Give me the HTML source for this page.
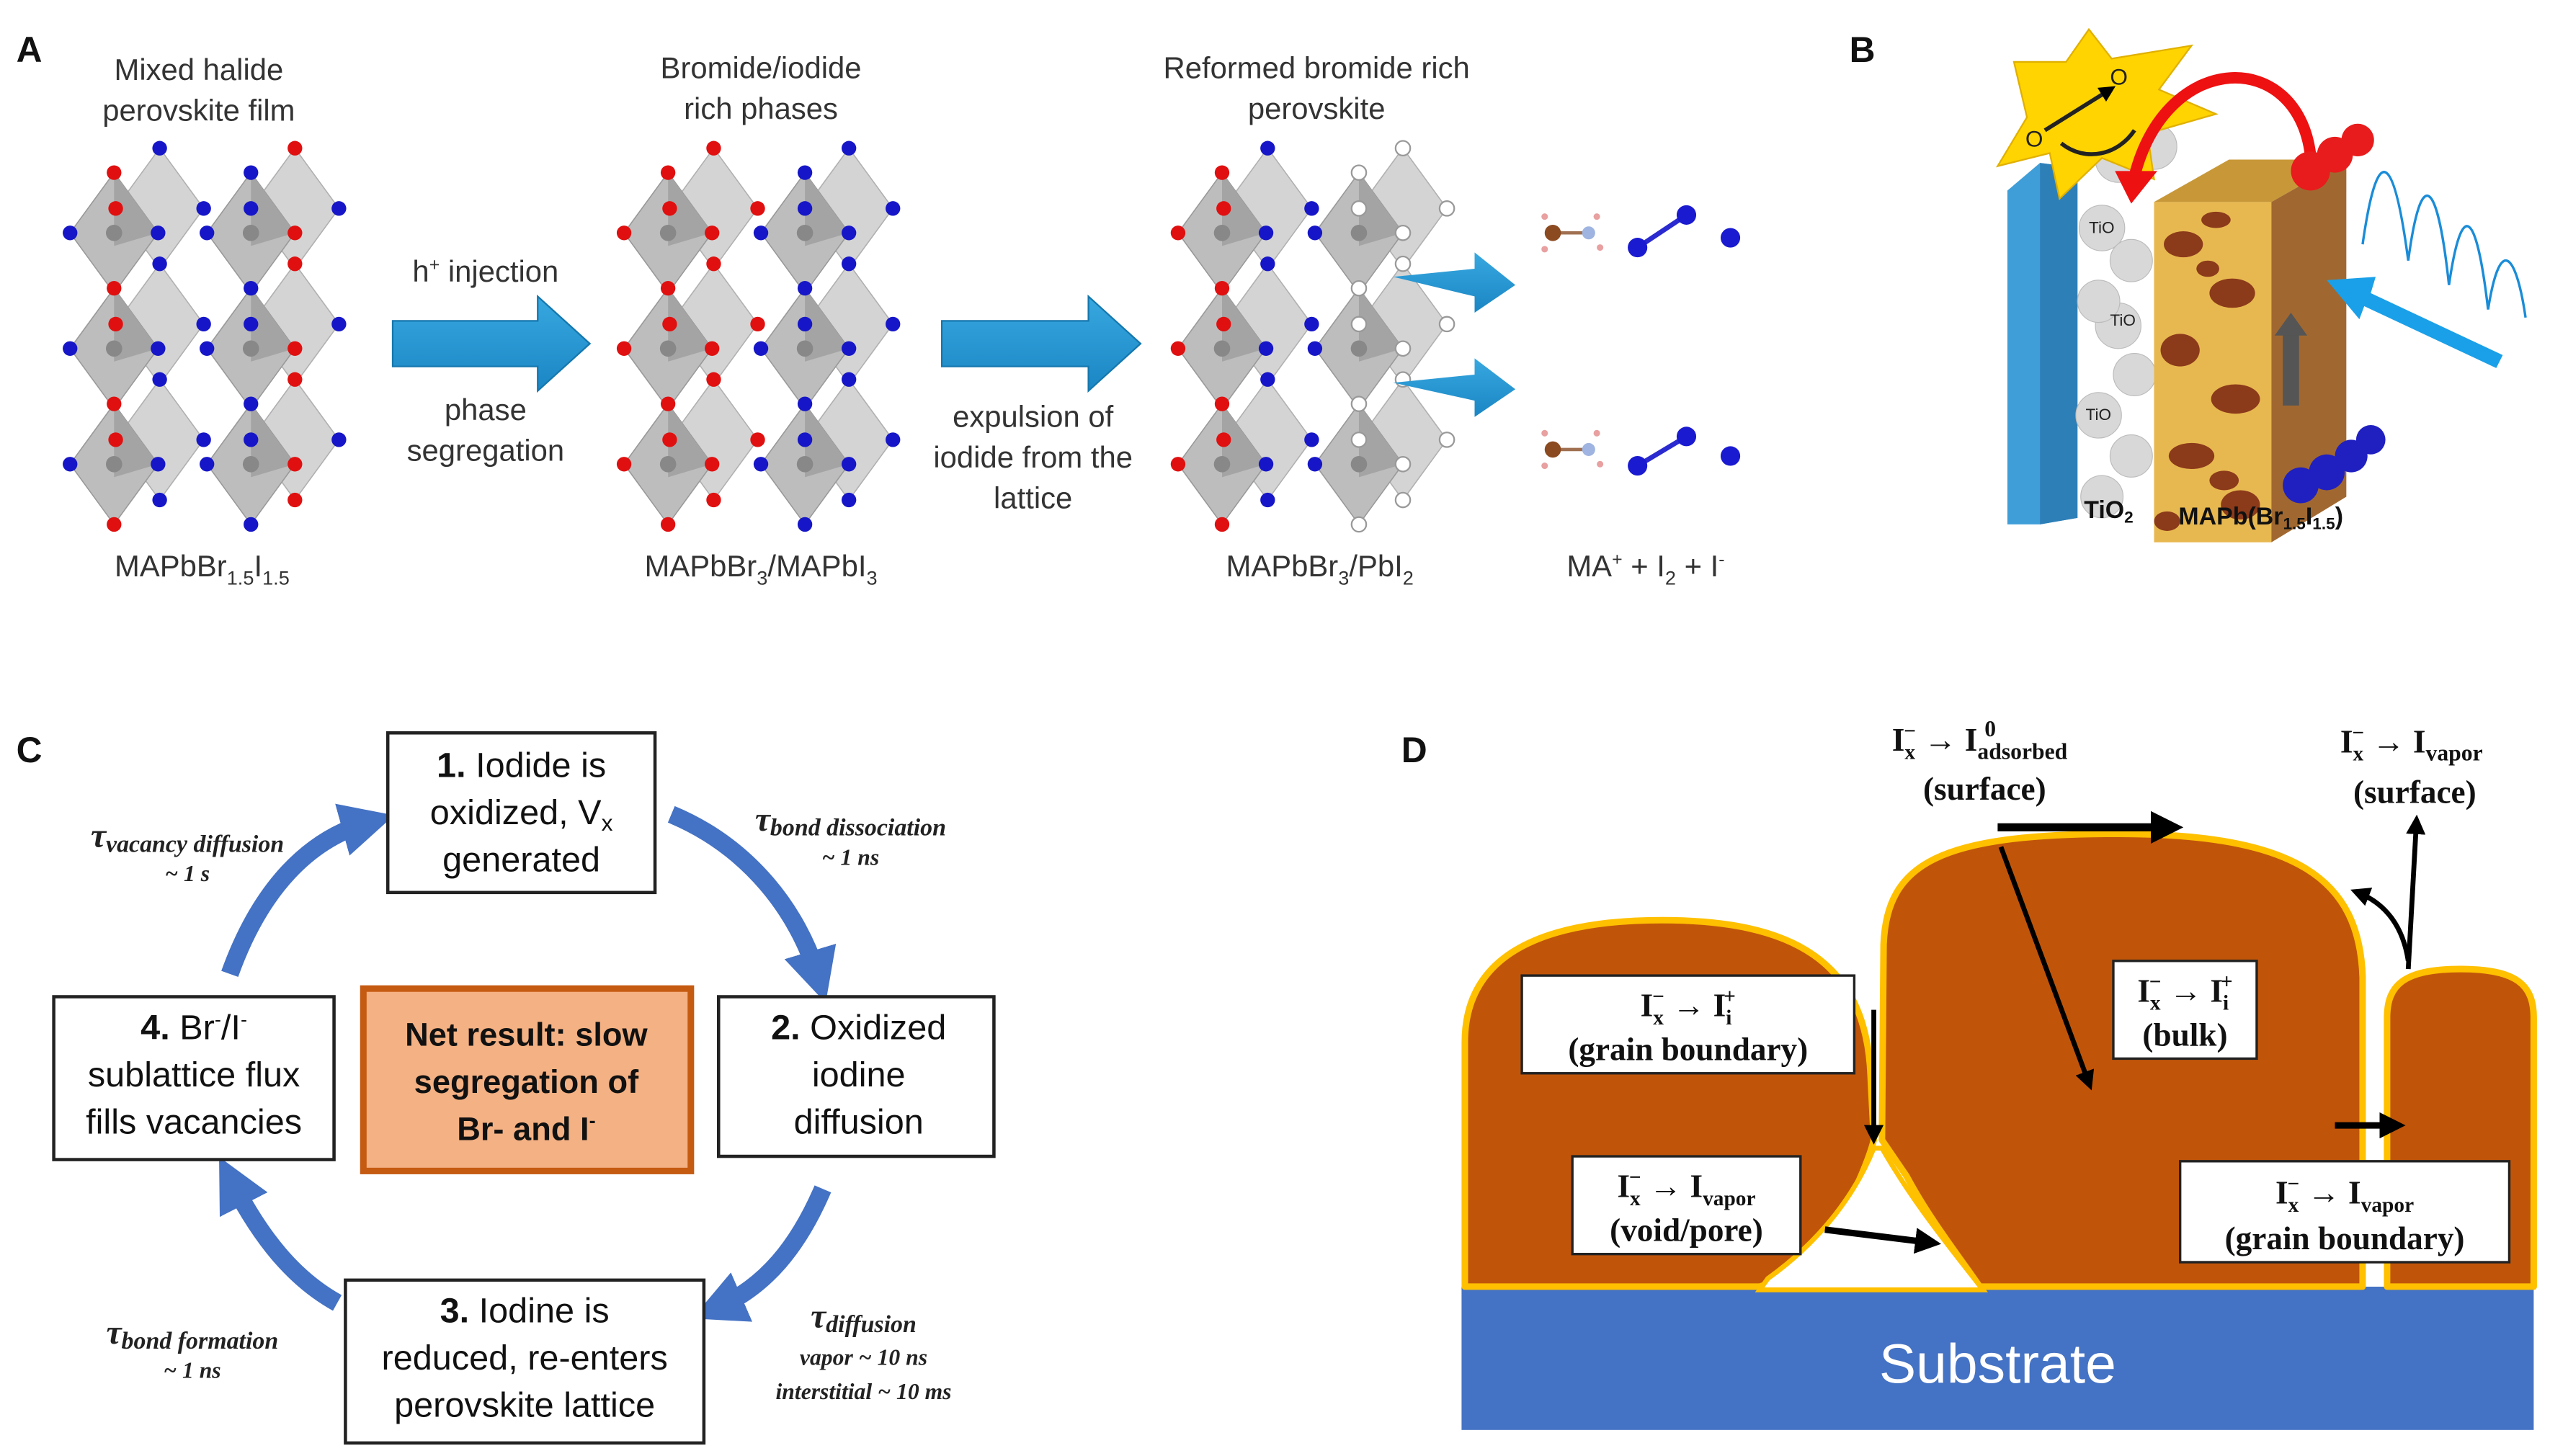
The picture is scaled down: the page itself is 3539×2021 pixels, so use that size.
<!DOCTYPE html>
<html><head><meta charset="utf-8"><style>
html,body{margin:0;padding:0;background:#fff}
svg{display:block}
.s{font-family:"Liberation Sans",sans-serif}
.r{font-family:"Liberation Serif",serif;font-weight:bold}
</style></head><body>
<svg id="sv" width="3539" height="2021" viewBox="0 0 1565 894" preserveAspectRatio="none" xmlns="http://www.w3.org/2000/svg">
<defs>
<marker id="bh" viewBox="0 0 10 10" refX="5" refY="5" markerWidth="3" markerHeight="3" orient="auto"><path d="M0,0 L10,5 L0,10 z" fill="#4472c4"/></marker>
<marker id="kh" viewBox="0 0 10 10" refX="6" refY="5" markerWidth="4" markerHeight="4" orient="auto"><path d="M0,0 L10,5 L0,10 z" fill="#000"/></marker>
<linearGradient id="ag" x1="0" y1="0" x2="0" y2="1"><stop offset="0" stop-color="#38a8e0"/><stop offset="1" stop-color="#1a86c4"/></linearGradient>
</defs>

<g class="s" font-weight="bold" font-size="22" fill="#111">
<text x="10" y="38">A</text><text x="1135" y="38">B</text><text x="10" y="468">C</text><text x="860" y="468">D</text>
</g>

<g id="lat"></g>
<g class="s" font-size="18.5" fill="#333" text-anchor="middle">
<text x="122" y="49">Mixed halide</text><text x="122" y="74">perovskite film</text>
<text x="467" y="48">Bromide/iodide</text><text x="467" y="73">rich phases</text>
<text x="808" y="48">Reformed bromide rich</text><text x="808" y="73">perovskite</text>
<text x="298" y="173">h<tspan font-size="11" dy="-7">+</tspan><tspan dy="7"> injection</tspan></text>
<text x="298" y="258">phase</text><text x="298" y="283">segregation</text>
<text x="634" y="262">expulsion of</text><text x="634" y="287">iodide from the</text><text x="634" y="312">lattice</text>
<text x="124" y="354">MAPbBr<tspan font-size="12" dy="5">1.5</tspan><tspan dy="-5">I</tspan><tspan font-size="12" dy="5">1.5</tspan></text>
<text x="467" y="354">MAPbBr<tspan font-size="12" dy="5">3</tspan><tspan dy="-5">/MAPbI</tspan><tspan font-size="12" dy="5">3</tspan></text>
<text x="810" y="354">MAPbBr<tspan font-size="12" dy="5">3</tspan><tspan dy="-5">/PbI</tspan><tspan font-size="12" dy="5">2</tspan></text>
<text x="1010" y="354">MA<tspan font-size="11" dy="-7">+</tspan><tspan dy="7">  + I</tspan><tspan font-size="12" dy="5">2</tspan><tspan dy="-5">  + I</tspan><tspan font-size="11" dy="-7">-</tspan></text>
</g>
<path d="M241,197 L330,197 L330,182 L362,211 L330,240 L330,225 L241,225 Z" fill="url(#ag)" stroke="#1577ad" stroke-width="1"/>
<path d="M578,197 L668,197 L668,182 L700,211 L668,240 L668,225 L578,225 Z" fill="url(#ag)" stroke="#1577ad" stroke-width="1"/>
<path d="M855,170 L905,165 L905,155 L930,175 L905,192 L905,182 Z" fill="url(#ag)"/>
<path d="M855,235 L905,230 L905,220 L930,239 L905,256 L905,246 Z" fill="url(#ag)"/>
<g>
<line x1="953" y1="143" x2="975" y2="143" stroke="#a07050" stroke-width="2"/><circle cx="953" cy="143" r="5" fill="#8b4a20"/><circle cx="975" cy="143" r="4" fill="#9fb4e0"/>
<circle cx="948" cy="133" r="2" fill="#e8a0a0"/><circle cx="948" cy="153" r="2" fill="#e8a0a0"/><circle cx="980" cy="133" r="2" fill="#e8a0a0"/><circle cx="982" cy="152" r="2" fill="#e8a0a0"/>
<line x1="1005" y1="152" x2="1035" y2="132" stroke="#2a2ad0" stroke-width="3"/><circle cx="1005" cy="152" r="6" fill="#1a1ad0"/><circle cx="1035" cy="132" r="6" fill="#1a1ad0"/><circle cx="1062" cy="146" r="6" fill="#1a1ad0"/>
<line x1="953" y1="276" x2="975" y2="276" stroke="#a07050" stroke-width="2"/><circle cx="953" cy="276" r="5" fill="#8b4a20"/><circle cx="975" cy="276" r="4" fill="#9fb4e0"/>
<circle cx="948" cy="266" r="2" fill="#e8a0a0"/><circle cx="948" cy="286" r="2" fill="#e8a0a0"/><circle cx="980" cy="266" r="2" fill="#e8a0a0"/><circle cx="982" cy="285" r="2" fill="#e8a0a0"/>
<line x1="1005" y1="286" x2="1035" y2="268" stroke="#2a2ad0" stroke-width="3"/><circle cx="1005" cy="286" r="6" fill="#1a1ad0"/><circle cx="1035" cy="268" r="6" fill="#1a1ad0"/><circle cx="1062" cy="280" r="6" fill="#1a1ad0"/>
</g>

<!-- Panel B -->
<g>
<polygon points="1232,117 1252,100 1275,103 1275,318 1252,322 1232,322" fill="#3f9ed8"/>
<polygon points="1252,100 1275,103 1275,318 1252,322" fill="#2d7fb8"/>
<g fill="#d8d8d8" stroke="#bbb" stroke-width="0.5">
<circle cx="1300" cy="98" r="14"/><circle cx="1322" cy="90" r="14"/><circle cx="1290" cy="140" r="14"/><circle cx="1308" cy="160" r="13"/>
<circle cx="1300" cy="200" r="14"/><circle cx="1288" cy="185" r="13"/><circle cx="1310" cy="230" r="13"/><circle cx="1288" cy="255" r="14"/><circle cx="1308" cy="280" r="13"/><circle cx="1290" cy="305" r="13"/></g>
<polygon points="1236,38 1268,38 1282,18 1296,36 1345,28 1325,55 1360,70 1318,82 1322,110 1290,97 1264,122 1258,94 1226,102 1244,72" fill="#ffd400" stroke="#e0b000"/>
<polygon points="1322,124 1394,124 1394,333 1322,333" fill="#e8b850"/>
<polygon points="1322,124 1394,124 1440,98 1368,98" fill="#c89838"/>
<polygon points="1394,124 1440,98 1440,305 1394,333" fill="#a06830"/>
<g fill="#8b3a1a"><ellipse cx="1340" cy="150" rx="12" ry="8"/><ellipse cx="1370" cy="180" rx="14" ry="9"/><ellipse cx="1338" cy="215" rx="12" ry="10"/><ellipse cx="1372" cy="245" rx="15" ry="9"/><ellipse cx="1345" cy="280" rx="14" ry="8"/><ellipse cx="1375" cy="310" rx="12" ry="9"/><ellipse cx="1360" cy="135" rx="9" ry="5"/><ellipse cx="1330" cy="320" rx="8" ry="6"/><ellipse cx="1355" cy="165" rx="7" ry="5"/><ellipse cx="1365" cy="295" rx="9" ry="6"/></g>
<path d="M1418,95 C1410,30 1330,30 1310,108" fill="none" stroke="#ee1111" stroke-width="7"/>
<polygon points="1298,105 1324,105 1308,125" fill="#ee1111"/>
<path d="M1255,80 L1295,55" stroke="#222" stroke-width="2.5" marker-end="url(#kh)"/>
<path d="M1265,88 C1280,100 1300,95 1310,80" fill="none" stroke="#222" stroke-width="2.5"/>
<circle cx="1418" cy="105" r="12" fill="#e81c1c"/><circle cx="1433" cy="95" r="11" fill="#e81c1c"/><circle cx="1447" cy="86" r="10" fill="#e81c1c"/>
<circle cx="1412" cy="298" r="11" fill="#2020c0"/><circle cx="1428" cy="290" r="11" fill="#2020c0"/><circle cx="1443" cy="280" r="10" fill="#2020c0"/><circle cx="1455" cy="270" r="9" fill="#2020c0"/>
<rect x="1401" y="205" width="10" height="44" fill="#555"/><polygon points="1396,206 1406,192 1416,206" fill="#555"/>
<path d="M1536,218 L1455,180 L1458,170 L1428,172 L1448,196 L1451,188 L1532,226 Z" fill="#1aa0e8"/>
<path d="M1450,150 C1460,80 1470,100 1478,160 C1486,100 1496,110 1503,175 C1511,120 1520,130 1527,190 C1535,140 1545,160 1550,195" fill="none" stroke="#1a8cd8" stroke-width="1.5"/>
<g class="s" font-weight="bold" fill="#111"><text x="1279" y="318" font-size="15">TiO<tspan font-size="10" dy="3">2</tspan></text>
<text x="1337" y="322" font-size="15">MAPb(Br<tspan font-size="10" dy="3">1.5</tspan><tspan dy="-3">I</tspan><tspan font-size="10" dy="3">1.5</tspan><tspan dy="-3">)</tspan></text></g>
<g class="s" font-size="10" fill="#222"><text x="1282" y="143">TiO</text><text x="1295" y="200">TiO</text><text x="1280" y="258">TiO</text>
<text x="1243" y="90" font-size="14">O</text><text x="1295" y="52" font-size="14">O</text></g>
</g>

<!-- Panel C -->
<g stroke="#4472c4" stroke-width="11" fill="none">
<path d="M141,598 C160,545 190,515 226,505" marker-end="url(#bh)"/>
<path d="M412,500 C460,520 490,560 502,600" marker-end="url(#bh)"/>
<path d="M505,730 C490,765 470,790 440,803" marker-end="url(#bh)"/>
<path d="M207,800 C180,785 160,760 142,725" marker-end="url(#bh)"/>
</g>
<g fill="#fff" stroke="#222" stroke-width="2">
<rect x="238" y="450" width="164" height="98"/><rect x="441" y="612" width="169" height="98"/>
<rect x="212" y="786" width="220" height="100"/><rect x="33" y="612" width="172" height="100"/>
</g>
<rect x="223" y="607" width="201" height="112" fill="#f4b183" stroke="#c55a11" stroke-width="4"/>
<g class="s" font-size="21.5" fill="#111" text-anchor="middle">
<text x="320" y="477"><tspan font-weight="bold">1.</tspan> Iodide is</text><text x="320" y="506">oxidized, V<tspan font-size="14" dy="4">x</tspan></text><text x="320" y="535">generated</text>
<text x="527" y="638"><tspan font-weight="bold">2.</tspan> Oxidized</text><text x="527" y="667">iodine</text><text x="527" y="696">diffusion</text>
<text x="322" y="812"><tspan font-weight="bold">3.</tspan> Iodine is</text><text x="322" y="841">reduced, re-enters</text><text x="322" y="870">perovskite lattice</text>
<text x="119" y="638"><tspan font-weight="bold">4.</tspan> Br<tspan font-size="12" dy="-8">-</tspan><tspan dy="8">/I</tspan><tspan font-size="12" dy="-8">-</tspan></text><text x="119" y="667">sublattice flux</text><text x="119" y="696">fills vacancies</text>
<g font-weight="bold" font-size="20"><text x="323" y="642">Net result: slow</text><text x="323" y="671">segregation of</text><text x="323" y="700">Br- and I<tspan font-size="12" dy="-8">-</tspan></text></g>
</g>
<g class="r" font-style="italic" fill="#222" text-anchor="middle" font-size="14">
<text x="115" y="520"><tspan font-size="21">τ</tspan><tspan font-size="15" dy="3">vacancy diffusion</tspan></text><text x="115" y="541">~ 1 s</text>
<text x="522" y="510"><tspan font-size="21">τ</tspan><tspan font-size="15" dy="3">bond dissociation</tspan></text><text x="522" y="531">~ 1 ns</text>
<text x="118" y="825"><tspan font-size="21">τ</tspan><tspan font-size="15" dy="3">bond formation</tspan></text><text x="118" y="846">~ 1 ns</text>
<text x="530" y="815"><tspan font-size="21">τ</tspan><tspan font-size="15" dy="3">diffusion</tspan></text><text x="530" y="838">vapor ~ 10 ns</text><text x="530" y="859">interstitial ~ 10 ms</text>
</g>

<!-- Panel D -->
<rect x="897" y="790" width="658" height="88" fill="#4472c4"/>
<text x="1226" y="849" class="s" font-size="34" fill="#fff" text-anchor="middle">Substrate</text>
<g fill="#c0550a" stroke="#ffc000" stroke-width="4" stroke-linejoin="round">
<path d="M899,790 L899,640 C899,590 940,565 1020,565 C1100,565 1145,590 1148,660 L1150,700 C1145,720 1125,760 1110,780 L1080,790 Z"/>
<path d="M1155,700 L1156,580 C1158,530 1190,512 1300,512 C1410,512 1448,540 1450,600 L1450,790 L1215,790 C1205,775 1185,750 1170,722 Z"/>
<path d="M1465,790 L1465,625 C1465,605 1475,595 1510,595 C1545,595 1555,605 1555,625 L1555,790 Z"/>
</g>
<path d="M1150,705 C1140,730 1120,760 1085,785 L1080,792 L1217,792 C1200,770 1175,740 1155,705 Z" fill="#fff" stroke="#ffc000" stroke-width="3"/>
<rect x="1452" y="735" width="11" height="55" fill="#fff"/>
<g stroke="#000" stroke-width="3" fill="none">
<line x1="1226" y1="508" x2="1332" y2="508" stroke-width="5" marker-end="url(#kh)"/>
<line x1="1228" y1="520" x2="1282" y2="665" marker-end="url(#kh)"/>
<line x1="1150" y1="620" x2="1150" y2="698" marker-end="url(#kh)"/>
<line x1="1120" y1="755" x2="1185" y2="763" stroke-width="4" marker-end="url(#kh)"/>
<line x1="1433" y1="691" x2="1470" y2="691" stroke-width="4" marker-end="url(#kh)"/>
<line x1="1478" y1="595" x2="1483" y2="505" marker-end="url(#kh)"/>
<path d="M1478,590 C1475,570 1465,555 1447,548" marker-end="url(#kh)"/>
</g>
<g fill="#fff" stroke="#222" stroke-width="1.5">
<rect x="934" y="599" width="204" height="60"/><rect x="1297" y="590" width="88" height="60"/>
<rect x="965" y="710" width="140" height="60"/><rect x="1338" y="713" width="202" height="62"/>
</g>
<g class="r" font-size="20" fill="#111" text-anchor="middle">
<text x="1036" y="624">I<tspan font-size="13" dy="5">x</tspan><tspan font-size="13" dx="-7" dy="-13">−</tspan><tspan dy="8"> → I</tspan><tspan font-size="13" dy="5">i</tspan><tspan font-size="13" dx="-5" dy="-13">+</tspan></text>
<text x="1036" y="651">(grain boundary)</text>
<text x="1341" y="615">I<tspan font-size="13" dy="5">x</tspan><tspan font-size="13" dx="-7" dy="-13">−</tspan><tspan dy="8"> → I</tspan><tspan font-size="13" dy="5">i</tspan><tspan font-size="13" dx="-5" dy="-13">+</tspan></text>
<text x="1341" y="642">(bulk)</text>
<text x="1035" y="735">I<tspan font-size="13" dy="5">x</tspan><tspan font-size="13" dx="-7" dy="-13">−</tspan><tspan dy="8"> → I</tspan><tspan font-size="13" dy="5">vapor</tspan></text>
<text x="1035" y="762">(void/pore)</text>
<text x="1439" y="739">I<tspan font-size="13" dy="5">x</tspan><tspan font-size="13" dx="-7" dy="-13">−</tspan><tspan dy="8"> → I</tspan><tspan font-size="13" dy="5">vapor</tspan></text>
<text x="1439" y="767">(grain boundary)</text>
<text x="1215" y="461">I<tspan font-size="13" dy="5">x</tspan><tspan font-size="13" dx="-7" dy="-13">−</tspan><tspan dy="8"> → I</tspan><tspan font-size="14" dy="5">adsorbed</tspan></text>
<text x="1218" y="491">(surface)</text>
<text x="1480" y="462">I<tspan font-size="13" dy="5">x</tspan><tspan font-size="13" dx="-7" dy="-13">−</tspan><tspan dy="8"> → I</tspan><tspan font-size="14" dy="5">vapor</tspan></text>
<text x="1482" y="493">(surface)</text>
</g>
<text x="1218" y="452" class="r" font-size="14" fill="#111">0</text>
</svg>
<script>
(function(){
var g=document.getElementById('lat'),h='';
function lat(ox,mode){
 var cols=[[68,0],[152,0]],back=[[96,-15],[179,-15]];
 var rows=[143,214,285];
 back.forEach(function(c){rows.forEach(function(r){var x=ox+c[0],y=r+c[1];
  h+='<polygon points="'+x+','+(y-37)+' '+(x+27)+','+y+' '+x+','+(y+37)+' '+(x-27)+','+y+'" fill="#d4d4d4" stroke="#b0b0b0" stroke-width="0.7"/>';});});
 cols.forEach(function(c,ci){rows.forEach(function(r,ri){var x=ox+c[0],y=r;
  h+='<polygon points="'+x+','+(y-37)+' '+(x+27)+','+y+' '+x+','+(y+37)+' '+(x-27)+','+y+'" fill="#bdbdbd" stroke="#999" stroke-width="0.7"/>';
  h+='<polygon points="'+x+','+(y-37)+' '+(x+27)+','+y+' '+x+','+(y+8)+'" fill="#a4a4a4"/>';
  h+='<circle cx="'+x+'" cy="'+y+'" r="5" fill="#888"/>';});});
 var pts=[];
 cols.concat(back).forEach(function(c,ci){rows.forEach(function(r,ri){var x=ox+c[0],y=r+c[1];
  pts.push([x,y-37,ci,ri,0],[x+27,y,ci,ri,1],[x-27,y,ci,ri,2]); if(ri==2)pts.push([x,y+37,ci,ri,3]);});});
 pts.forEach(function(p,i){var col=((i*7+p[4])%3==0)?'#e01010':'#1616c8';
  if(mode==1) col=(p[2]%2==0)?'#e01010':'#1616c8';
  if(mode==2){ col=(p[0]-ox<90)?'#e01010':(p[0]-ox<130?'#1616c8':'#fff');}
  h+='<circle cx="'+p[0]+'" cy="'+p[1]+'" r="4.5" fill="'+col+'" stroke="'+(col=='#fff'?'#999':'none')+'"/>';});
}
lat(2,0);lat(342,1);lat(682,2);
g.innerHTML=h;
})();
</script>
</body></html>
